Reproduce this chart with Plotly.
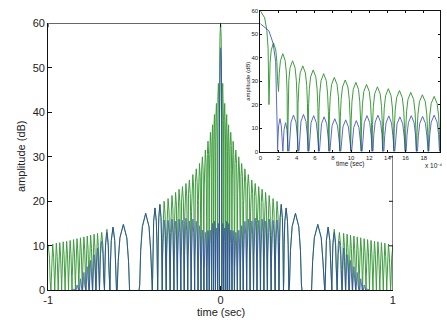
import plotly.graph_objects as go

# ---------------------------------------------------------------------------
# Main record, symmetric about t = 0.
# lobe_edges: null positions (seconds from the centre); lobe i lies between
# lobe_edges[i] and lobe_edges[i+1].  Peaks in dB; None = no lobe drawn.
# ---------------------------------------------------------------------------
lobe_edges = [0.007, 0.018, 0.030, 0.041, 0.052, 0.066, 0.080, 0.097, 0.114,
              0.131, 0.151, 0.171, 0.191, 0.211, 0.231, 0.251, 0.271, 0.293,
              0.316, 0.339, 0.365, 0.396, 0.473, 0.524, 0.604, 0.644, 0.675,
              0.704, 0.724, 0.744, 0.764, 0.783, 0.803, 0.823, 0.843, 0.863,
              0.883, 0.903, 0.923, 0.943, 0.963, 0.985, 1.015]

green_peak_db = [46.5, 42.0, 39.5, 37.2, 35.5, 33.5, 31.5, 30.0, 28.5, 27.3,
                 26.0, 24.8, 24.0, 23.3, 22.7, 22.0, 21.3, 20.6, 20.0, 19.3,
                 18.5, 17.3, None, 14.8, 14.2, 13.7, 13.0, 12.8, 12.6, 12.4,
                 12.2, 12.0, 11.8, 11.6, 11.4, 11.2, 11.0, 10.9, 10.7, 10.6,
                 10.4, 10.2]

blue_peak_db = [15.0, 14.0, 15.5, 15.0, 13.5, 13.4, 13.0, 13.5, 14.5, 15.5,
                16.0, 15.6, 16.2, 15.7, 16.0, 15.5, 16.0, 15.7, 15.8, 19.3,
                18.5, 17.3, None, 14.8, 14.2, 13.0, 11.0, 9.5, 8.0, 6.7,
                5.3, 4.0, 2.6, 1.2, 0.3, None, None, None, None, None,
                None, None]

green_centre_db = 60.0
blue_centre_db = 54.5

# ---------------------------------------------------------------------------
# Inset: first 2 ms after t = 0 (time in units of 1e-4 s)
# ---------------------------------------------------------------------------
inset_green_edges = [-0.95, 0.95, 1.95, 3.0, 4.1, 5.25, 6.4, 7.55, 8.75, 9.95,
                     11.1, 12.3, 13.5, 14.7, 15.95, 17.2, 18.5, 19.8]
inset_green_null_db = [20.0, 20.0, 26.0, 0, 0, 0, 0, 0, 0, 0, 0, 0, 0, 0, 0,
                       0, 0, 0]
inset_green_peak_db = [60.0, 46.3, 41.7, 38.7, 36.5, 34.8, 33.2, 31.6, 30.5,
                       29.5, 28.6, 27.6, 26.8, 26.0, 25.2, 24.2, 23.5]

inset_blue_edges = [-1.87, 1.87, 2.45, 3.1, 4.2, 5.3, 6.45, 7.6, 8.8, 10.0,
                    11.15, 12.35, 13.55, 14.75, 16.0, 17.25, 18.5, 19.8]
inset_blue_null_db = [7.7, 7.7, 0, 0, 0, 0, 0, 0, 0, 0, 0, 0, 0, 0, 0, 0, 0, 0]
inset_blue_peak_db = [54.5, 14.0, 12.3, 15.5, 15.8, 15.3, 14.8, 14.0, 13.5,
                      13.2, 15.3, 15.5, 15.2, 14.8, 15.3, 15.0, 15.5]

main_xticks = [-1, 0, 1]
main_yticks = [0, 10, 20, 30, 40, 50, 60]
inset_xticks = [0, 2, 4, 6, 8, 10, 12, 14, 16, 18]

GREEN = "#3f9c3f"
BLUE = "#2638b0"
FONT = "Liberation Sans, Arial, sans-serif"

# outline of one lobe: (fraction of half width from centre, dB below peak)
LOBE_PROFILE = [(0.9, 16.1), (0.75, 8.3), (0.5, 3.0), (0.0, 0.0)]


def lobe(a, b, peak, va=0.0, vb=0.0):
    c, hw = (a + b) / 2.0, (b - a) / 2.0
    xs, ys = [a], [va]
    for f, drop in LOBE_PROFILE:
        xs.append(c - f * hw)
        ys.append(max(peak - drop, 0.0))
    for f, drop in reversed(LOBE_PROFILE[:-1]):
        xs.append(c + f * hw)
        ys.append(max(peak - drop, 0.0))
    xs.append(b)
    ys.append(vb)
    return xs, ys


def symmetric_trace(edges, peaks, centre_peak):
    xs, ys = [], []

    def add(a, b, p):
        if p is None:
            xs.append(None)
            ys.append(None)
            return
        lx, ly = lobe(a, b, p)
        xs.extend(lx)
        ys.extend(ly)

    for i in reversed(range(len(peaks))):
        add(-edges[i + 1], -edges[i], peaks[i])
    add(-edges[0], edges[0], centre_peak)
    for i in range(len(peaks)):
        add(edges[i], edges[i + 1], peaks[i])
    return xs, ys


def inset_trace(edges, nulls, peaks):
    xs, ys = [], []
    for i, p in enumerate(peaks):
        lx, ly = lobe(edges[i], edges[i + 1], p, nulls[i], nulls[i + 1])
        xs.extend(lx)
        ys.extend(ly)
    return xs, ys


gx, gy = symmetric_trace(lobe_edges, green_peak_db, green_centre_db)
bx, by = symmetric_trace(lobe_edges, blue_peak_db, blue_centre_db)
igx, igy = inset_trace(inset_green_edges, inset_green_null_db, inset_green_peak_db)
ibx, iby = inset_trace(inset_blue_edges, inset_blue_null_db, inset_blue_peak_db)

fig = go.Figure()
fig.add_trace(go.Scatter(x=gx, y=gy, mode="lines", xaxis="x", yaxis="y",
                         line=dict(color=GREEN, width=1), showlegend=False,
                         hoverinfo="skip"))
fig.add_trace(go.Scatter(x=bx, y=by, mode="lines", xaxis="x", yaxis="y",
                         line=dict(color=BLUE, width=1), opacity=0.7,
                         showlegend=False, hoverinfo="skip"))
fig.add_trace(go.Scatter(x=igx, y=igy, mode="lines", xaxis="x2", yaxis="y2",
                         line=dict(color=GREEN, width=1), showlegend=False,
                         hoverinfo="skip"))
fig.add_trace(go.Scatter(x=ibx, y=iby, mode="lines", xaxis="x2", yaxis="y2",
                         line=dict(color=BLUE, width=1), opacity=0.75,
                         showlegend=False, hoverinfo="skip"))

W, H = 447, 330
axis_common = dict(showgrid=False, zeroline=False, showline=True,
                   linecolor="#111", linewidth=1, ticks="inside",
                   tickcolor="#111")

fig.update_layout(
    width=W, height=H,
    margin=dict(l=0, r=0, t=0, b=0),
    paper_bgcolor="white", plot_bgcolor="rgba(0,0,0,0)",
    font=dict(family=FONT, color="#222"),
    xaxis=dict(domain=[44 / W, 395 / W], range=[-1, 1], tickvals=main_xticks,
               ticktext=[str(v) for v in main_xticks], ticklen=4,
               tickfont=dict(size=11), anchor="y", **axis_common),
    yaxis=dict(domain=[1 - 295 / H, 1 - 18 / H], range=[0, 60],
               tickvals=main_yticks, ticklen=4, tickfont=dict(size=11),
               anchor="x", **axis_common),
    xaxis2=dict(domain=[260 / W, 443 / W], range=[0, 19.8],
                tickvals=inset_xticks, ticklen=2, mirror="ticks",
                tickfont=dict(size=6), anchor="y2", **axis_common),
    yaxis2=dict(domain=[1 - 151 / H, 1 - 5 / H], range=[0, 60],
                tickvals=main_yticks, ticklen=2, mirror="ticks",
                tickfont=dict(size=6), anchor="x2", **axis_common),
)

# remaining parts of the main frame (top edge up to the inset, right edge
# below it) with their mirrored ticks
frame = dict(type="line", xref="x", yref="y", line=dict(color="#111", width=1))
fig.add_shape(x0=-1, x1=0.228, y0=60, y1=60, **frame)
fig.add_shape(x0=1, x1=1, y0=0, y1=30.3, **frame)
for yv in [10, 20, 30]:
    fig.add_shape(x0=1, x1=1 - 0.023, y0=yv, y1=yv, **frame)
for xv in [-1, 0]:
    fig.add_shape(x0=xv, x1=xv, y0=60, y1=60 - 0.87, **frame)

ann = dict(showarrow=False, xref="paper", yref="paper",
           xanchor="center", yanchor="middle")
fig.add_annotation(text="amplitude (dB)", x=17 / W, y=1 - 156 / H,
                   textangle=-90, font=dict(size=11), **ann)
fig.add_annotation(text="time (sec)", x=220 / W, y=1 - 318 / H,
                   font=dict(size=11), **ann)
fig.add_annotation(text="amplitude (dB)", x=248 / W, y=1 - 78 / H,
                   textangle=-90, font=dict(size=6), **ann)
fig.add_annotation(text="time (sec)", x=352 / W, y=1 - 164 / H,
                   font=dict(size=6.5), **ann)
fig.add_annotation(text="x 10\u207b\u2074", x=436 / W, y=1 - 165 / H,
                   font=dict(size=6.5), **ann)

fig.write_html("out.html")
